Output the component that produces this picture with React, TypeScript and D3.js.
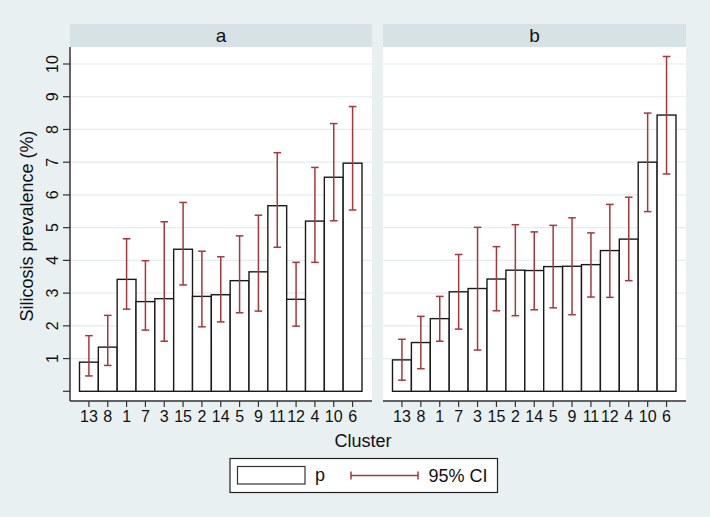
import React from "react";
import * as d3 from "d3";

// cluster order is the same in both panels
const clusters = ["13", "8", "1", "7", "3", "15", "2", "14", "5", "9", "11", "12", "4", "10", "6"];

const pA = [0.89, 1.35, 3.42, 2.74, 2.83, 4.34, 2.9, 2.95, 3.38, 3.65, 5.67, 2.81, 5.2, 6.54, 6.97];
const loA = [0.47, 0.79, 2.51, 1.87, 1.53, 3.25, 1.97, 2.12, 2.4, 2.45, 4.4, 1.99, 3.94, 5.21, 5.54];
const hiA = [1.7, 2.32, 4.66, 3.99, 5.18, 5.77, 4.28, 4.11, 4.75, 5.38, 7.29, 3.94, 6.84, 8.18, 8.7];

const pB = [0.96, 1.49, 2.22, 3.04, 3.14, 3.43, 3.7, 3.69, 3.81, 3.82, 3.87, 4.3, 4.65, 7.0, 8.44];
const loB = [0.34, 0.69, 1.53, 1.9, 1.26, 2.46, 2.31, 2.49, 2.55, 2.34, 2.88, 2.87, 3.38, 5.49, 6.64];
const hiB = [1.59, 2.29, 2.9, 4.18, 5.01, 4.42, 5.09, 4.87, 5.07, 5.3, 4.84, 5.71, 5.93, 8.5, 10.23];

const yTicks = [1, 2, 3, 4, 5, 6, 7, 8, 9, 10];

const W = 710;
const H = 517;
const bg = "#e8f0f2";
const strip = "#d6e2e6";
const grid = "#e3ecef";
const ciColor = "#a3383e";
const font = "'Liberation Sans', Arial, sans-serif";

const plotTop = 47;
const plotBottom = 400;
const axisY = 401;

const y = d3.scaleLinear().domain([0, 10]).range([391.3, 64]);

function Panel({ x0, x1, title, p, lo, hi, leftAxis }) {
  const x = d3
    .scaleBand()
    .domain(clusters)
    .range([x0 + 9.5, x1 - 10])
    .padding(0);
  const bw = x.bandwidth();
  return (
    <g>
      <rect x={x0} y={24} width={x1 - x0} height={plotTop - 24} fill={strip} />
      <text x={(x0 + x1) / 2} y={41.5} textAnchor="middle" fontSize={19} fontFamily={font} fill="#111">
        {title}
      </text>
      <rect x={x0} y={plotTop} width={x1 - x0} height={plotBottom - plotTop} fill="#fff" />
      {yTicks.map((t) => (
        <line key={t} x1={x0} x2={x1} y1={y(t)} y2={y(t)} stroke={grid} strokeWidth={1.2} />
      ))}
      {clusters.map((c, i) => (
        <rect
          key={c}
          x={x(c)}
          y={y(p[i])}
          width={bw}
          height={y(0) - y(p[i])}
          fill="#fff"
          stroke="#1a1a1a"
          strokeWidth={1.4}
        />
      ))}
      {clusters.map((c, i) => {
        const cx = x(c) + bw / 2;
        return (
          <g key={c} stroke={ciColor} strokeWidth={1.5}>
            <line x1={cx} x2={cx} y1={y(lo[i])} y2={y(hi[i])} />
            <line x1={cx - 3.8} x2={cx + 3.8} y1={y(lo[i])} y2={y(lo[i])} />
            <line x1={cx - 3.8} x2={cx + 3.8} y1={y(hi[i])} y2={y(hi[i])} />
          </g>
        );
      })}
      <line x1={x0} x2={x1} y1={axisY} y2={axisY} stroke="#333" strokeWidth={1.5} />
      {clusters.map((c) => {
        const cx = x(c) + bw / 2;
        return (
          <g key={c}>
            <line x1={cx} x2={cx} y1={axisY} y2={axisY + 6} stroke="#333" strokeWidth={1.2} />
            <text x={cx} y={421.5} textAnchor="middle" fontSize={16} fontFamily={font} fill="#111">
              {c}
            </text>
          </g>
        );
      })}
      {leftAxis && (
        <g>
          <line x1={x0} x2={x0} y1={plotTop} y2={axisY} stroke="#333" strokeWidth={1.5} />
          {[0, ...yTicks].map((t) => (
            <line key={t} x1={x0 - 7} x2={x0} y1={y(t)} y2={y(t)} stroke="#333" strokeWidth={1.2} />
          ))}
          {yTicks.map((t) => (
            <text
              key={t}
              transform={`translate(${x0 - 12.5},${y(t)}) rotate(-90)`}
              textAnchor="middle"
              fontSize={16}
              fontFamily={font}
              fill="#111"
            >
              {t}
            </text>
          ))}
        </g>
      )}
    </g>
  );
}

export default function App() {
  return (
    <svg width={W} height={H} style={{ position: "absolute", left: 0, top: 0 }}>
      <rect width={W} height={H} fill={bg} />
      <Panel x0={70} x1={372} title="a" p={pA} lo={loA} hi={hiA} leftAxis={true} />
      <Panel x0={383} x1={686} title="b" p={pB} lo={loB} hi={hiB} leftAxis={false} />
      <text
        transform={`translate(33,226) rotate(-90)`}
        textAnchor="middle"
        fontSize={18}
        fontFamily={font}
        fill="#111"
      >
        Silicosis prevalence (%)
      </text>
      <text x={363} y={447} textAnchor="middle" fontSize={18} fontFamily={font} fill="#111">
        Cluster
      </text>
      <g>
        <rect x={230} y={458.5} width={267.5} height={34} fill="#fff" stroke="#222" strokeWidth={1.2} />
        <rect x={237.5} y={466.5} width={67.5} height={17.5} fill="#fff" stroke="#333" strokeWidth={1.2} />
        <text x={315} y={481} fontSize={18} fontFamily={font} fill="#111">
          p
        </text>
        <g stroke={ciColor} strokeWidth={1.5}>
          <line x1={351} x2={418} y1={475.5} y2={475.5} />
          <line x1={351} x2={351} y1={471.5} y2={479.5} />
          <line x1={418} x2={418} y1={471.5} y2={479.5} />
        </g>
        <text x={428.5} y={482} fontSize={18} fontFamily={font} fill="#111">
          95% CI
        </text>
      </g>
    </svg>
  );
}
